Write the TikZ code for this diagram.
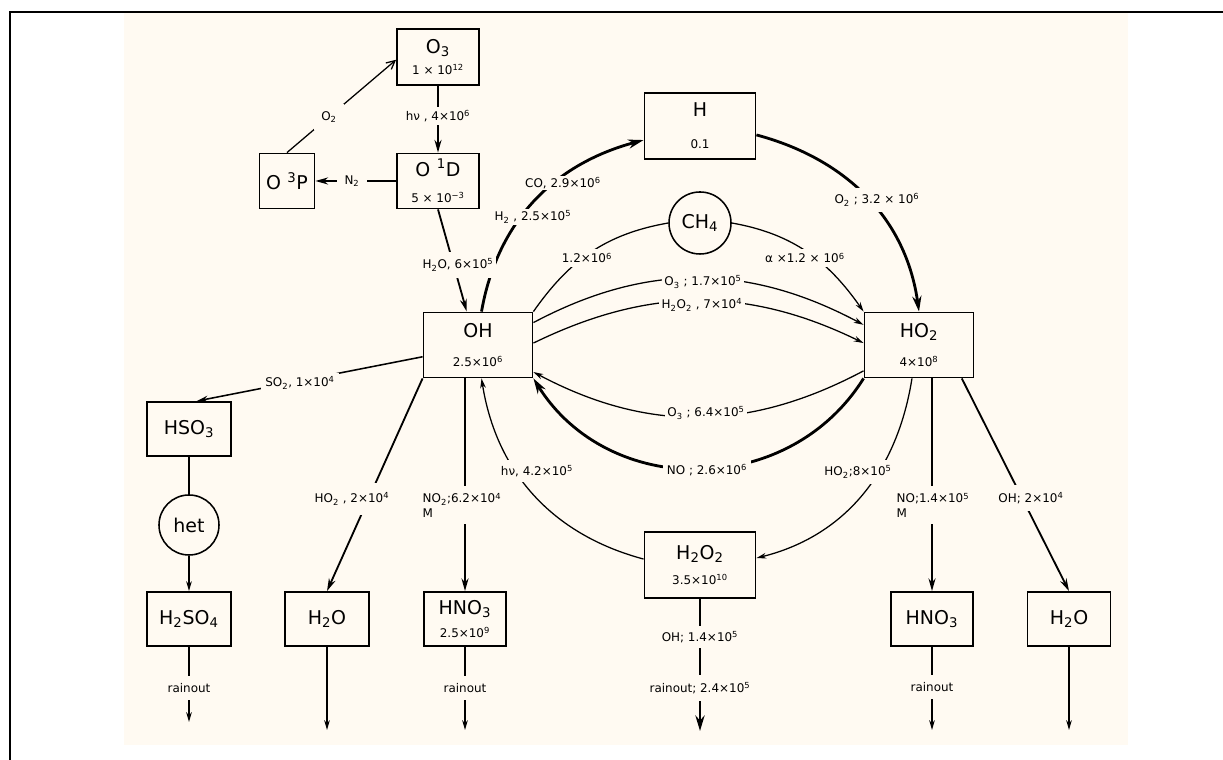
\documentclass[tikz,border=0pt]{standalone}
\usepackage{fontspec}
\setmainfont{DejaVu Sans}
\usetikzlibrary{arrows.meta}

\definecolor{paper}{RGB}{255,250,242}
\newcommand{\supx}[1]{\textsuperscript{#1}}
\newcommand{\subx}[1]{\textsubscript{#1}}
\newcommand{\bigsz}{\fontsize{13.5}{15}\selectfont}
\newcommand{\smsz}{\fontsize{8.5}{10}\selectfont}

\tikzset{
  box/.style={draw, line width=1.3pt, align=center, inner sep=0pt, font=\bigsz},
  blob/.style={draw, circle, line width=1.1pt, inner sep=0pt, font=\bigsz},
  lbl/.style={fill=paper, inner sep=2pt, font=\smsz},
  rxn/.style={line width=0.9pt, -{Stealth[length=7pt,width=4pt]}},
  mid/.style={line width=1.3pt, -{Stealth[length=9pt,width=5pt]}},
  major/.style={line width=2pt, -{Stealth[length=11pt,width=6.5pt]}}
}

\begin{document}
\begin{tikzpicture}[x=0.025cm, y=0.025cm]
  \useasboundingbox (0,0) rectangle (1223,760);
  % sheet
  \fill[paper] (124,15) rectangle (1128,748);
  \draw[line width=1pt] (10,0) -- (10,748) -- (1223,748);

  % species
  \node[box, minimum width=2.05cm, minimum height=1.4cm] (O3) at (438,703) {O\subx{3}\\[0pt]{\smsz 1 × 10\supx{12}}};
  \node[box, minimum width=2.05cm, minimum height=1.375cm] (O1D) at (438,579) {O\,\,\supx{1}D\\[4pt]{\smsz 5 × 10\supx{−3}}};
  \node[box, minimum width=1.375cm, minimum height=1.375cm] (O3P) at (287,579) {O\,\,\supx{3}P};
  \node[box, minimum width=2.775cm, minimum height=1.65cm] (H) at (700,634) {H\\[8pt]{\smsz 0.1}};
  \node[blob, minimum size=1.55cm] (CH4) at (700,537) {CH\subx{4}};
  \node[box, minimum width=2.725cm, minimum height=1.625cm] (OH) at (478,415) {OH\\[6pt]{\smsz 2.5×10\supx{6}}};
  \node[box, minimum width=2.725cm, minimum height=1.625cm] (HO2) at (919,415) {HO\subx{2}\\[6pt]{\smsz 4×10\supx{8}}};
  \node[box, minimum width=2.775cm, minimum height=1.65cm] (H2O2) at (700,195) {H\subx{2}O\subx{2}\\[3pt]{\smsz 3.5×10\supx{10}}};
  \node[box, minimum width=2.1cm, minimum height=1.35cm] (HSO3) at (189,331) {HSO\subx{3}};
  \node[blob, minimum size=1.5cm] (het) at (189,235) {het};
  \node[box, minimum width=2.1cm, minimum height=1.35cm] (H2SO4) at (189,141) {H\subx{2}SO\subx{4}};
  \node[box, minimum width=2.1cm, minimum height=1.35cm] (H2Ol) at (327,141) {H\subx{2}O};
  \node[box, minimum width=2.05cm, minimum height=1.35cm] (HNO3l) at (465,141) {HNO\subx{3}\\[2pt]{\smsz 2.5×10\supx{9}}};
  \node[box, minimum width=2.05cm, minimum height=1.35cm] (HNO3r) at (932,141) {HNO\subx{3}};
  \node[box, minimum width=2.075cm, minimum height=1.35cm] (H2Or) at (1069,141) {H\subx{2}O};

  % sinks
  \coordinate (out1) at (H2SO4.south |- 0,38);
  \coordinate (out2) at (H2Ol.south |- 0,30);
  \coordinate (out3) at (HNO3l.south |- 0,30);
  \coordinate (out4) at (H2O2.south |- 0,29);
  \coordinate (out5) at (HNO3r.south |- 0,30);
  \coordinate (out6) at (H2Or.south |- 0,30);

  % oxygen corner
  \draw[mid] (O3.south) -- (O1D.north);
  \draw[mid] (O1D.west) -- (O3P.east);
  \draw[line width=0.9pt, -{Straight Barb[length=6pt,width=6pt]}] (O3P.north) -- ([yshift=-2pt]O3.west);
  \draw[mid] (O1D.south) -- ([xshift=-8pt]OH.north);

  % main cycle
  \draw[major] ([xshift=2.5pt]OH.north) to[out=80, in=195] (H.194);
  \draw[major] (H.-9) to[out=-15, in=98] (HO2.north);
  \draw[rxn] ([xshift=-5pt]HO2.south) to[out=-99, in=14] (H2O2.7);
  \draw[rxn] (H2O2.174) to[out=165, in=-81] ([xshift=2.5pt]OH.south);
  \draw[major] (HO2.south west) to[out=238, in=-58, looseness=1.1] (OH.south east);
  \draw[rxn] (HO2.205) to[out=208, in=-28] (OH.-26);
  \draw[rxn] (OH.22) to[out=28, in=152] (HO2.160);
  \draw[rxn] (OH.2) to[out=26, in=154] (HO2.178);
  \draw[line width=0.9pt] (OH.north east) to[out=55, in=190] (CH4.west);
  \draw[rxn] (CH4.east) to[out=-10, in=125] (HO2.north west);

  % losses
  \draw[line width=1.1pt, -{Stealth[length=8pt,width=4.5pt]}] (OH.192) -- ([xshift=5.5pt]HSO3.north);
  \draw[line width=1.1pt] (HSO3.south) -- (het.north);
  \draw[rxn] (het.south) -- (H2SO4.north);
  \draw[mid] (OH.south west) -- (H2Ol.north);
  \draw[mid] (OH.south -| HNO3l.north) -- (HNO3l.north);
  \draw[mid] (HO2.south -| HNO3r.north) -- (HNO3r.north);
  \draw[mid] (HO2.-38) -- (H2Or.north);

  \draw[rxn] (H2SO4.south) -- (out1);
  \draw[rxn] (H2Ol.south) -- (out2);
  \draw[rxn] (HNO3l.south) -- (out3);
  \draw[major] (H2O2.south) -- (out4);
  \draw[rxn] (HNO3r.south) -- (out5);
  \draw[rxn] (H2Or.south) -- (out6);

  % rates
  \node[lbl] (lhv1) at (438,644) {hν , 4×10\supx{6}};
  \node[lbl, inner xsep=5pt] (lN2) at (352,579) {N\subx{2}};
  \node[lbl, inner sep=5pt] (lO2) at (329,643) {O\subx{2}};
  \node[lbl, inner sep=1pt] (lCO) at (563,577) {CO, 2.9×10\supx{6}};
  \node[lbl, inner sep=1pt] (lH2) at (533,543) {H\subx{2} , 2.5×10\supx{5}};
  \node[lbl, inner sep=4pt] (lO2b) at (877,560) {O\subx{2} ; 3.2 × 10\supx{6}};
  \node[lbl, inner sep=3pt] (lCHa) at (587,502) {1.2×10\supx{6}};
  \node[lbl, inner sep=3pt] (lCHb) at (805,502) {α ×1.2 × 10\supx{6}};
  \node[lbl] (lO3a) at (703,478) {O\subx{3} ; 1.7×10\supx{5}};
  \node[lbl] (lH2O2a) at (702,455) {H\subx{2}O\subx{2} , 7×10\supx{4}};
  \node[lbl, inner ysep=5pt] (lH2O) at (458,495) {H\subx{2}O, 6×10\supx{5}};
  \node[lbl, inner sep=3pt] (lSO2) at (300,377) {SO\subx{2}, 1×10\supx{4}};
  \node[lbl] (lO3b) at (706,347) {O\subx{3} ; 6.4×10\supx{5}};
  \node[lbl, inner sep=3pt] (lNO) at (707,290) {NO ; 2.6×10\supx{6}};
  \node[lbl, inner sep=4pt] (lhv2) at (537,289) {hν, 4.2×10\supx{5}};
  \node[lbl, inner sep=4pt] (lHO2a) at (858,288) {HO\subx{2};8×10\supx{5}};
  \node[lbl, inner ysep=7pt] (lHO2b) at (352,261) {HO\subx{2} , 2×10\supx{4}};
  \node[lbl, inner ysep=5pt, align=left] (lNO2) at (462,255) {NO\subx{2};6.2×10\supx{4}\\M};
  \node[lbl, inner ysep=5pt, align=left] (lNOr) at (933,255) {NO;1.4×10\supx{5}\\M};
  \node[lbl, inner ysep=5pt] (lOHr) at (1031,262) {OH; 2×10\supx{4}};
  \node[lbl, inner ysep=5pt] (lrn1) at (189,72) {rainout};
  \node[lbl, inner ysep=5pt] (lrn2) at (465,72) {rainout};
  \node[lbl, inner ysep=5pt] (lrn3) at (932,73) {rainout};
  \node[lbl, inner ysep=4pt] (lOHd) at (700,123) {OH; 1.4×10\supx{5}};
  \node[lbl, inner ysep=5pt] (lrn4) at (700,72) {rainout; 2.4×10\supx{5}};
\end{tikzpicture}
\end{document}
